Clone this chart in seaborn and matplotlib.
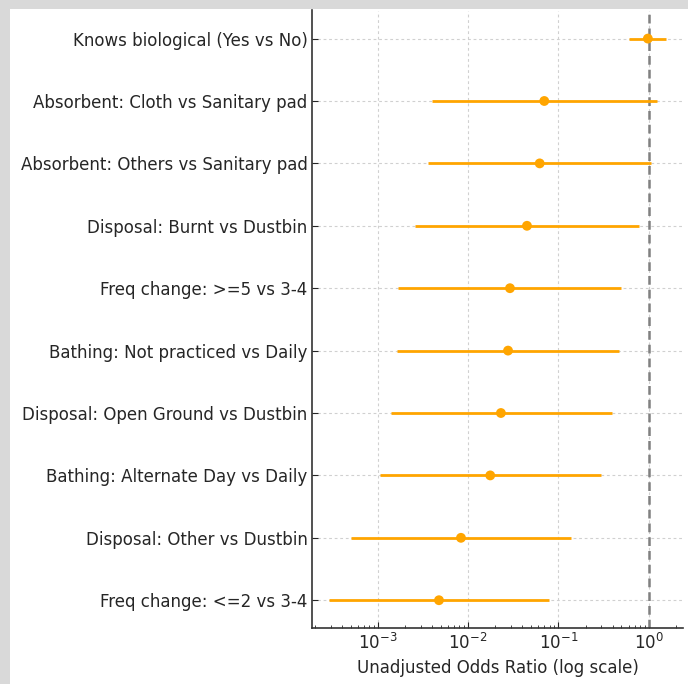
import matplotlib
matplotlib.use("Agg")
import matplotlib.pyplot as plt
import matplotlib.patches as mpatches
import numpy as np
import pandas as pd
import seaborn as sns

labels = [
    "Knows biological (Yes vs No)",
    "Absorbent: Cloth vs Sanitary pad",
    "Absorbent: Others vs Sanitary pad",
    "Disposal: Burnt vs Dustbin",
    "Freq change: >=5 vs 3-4",
    "Bathing: Not practiced vs Daily",
    "Disposal: Open Ground vs Dustbin",
    "Bathing: Alternate Day vs Daily",
    "Disposal: Other vs Dustbin",
    "Freq change: <=2 vs 3-4",
]
odds_ratio = [0.98, 0.0698, 0.0621, 0.0449, 0.0291, 0.0277, 0.0231, 0.0176, 0.00834, 0.00476]
ci_low = [0.605, 0.00398, 0.00357, 0.00256, 0.00169, 0.00164, 0.00139, 0.00106, 0.000509, 0.00029]
ci_high = [1.57, 1.226, 1.069, 0.787, 0.493, 0.465, 0.389, 0.294, 0.138, 0.078]

df = pd.DataFrame({"label": labels, "OR": odds_ratio, "lo": ci_low, "hi": ci_high})
df["pos"] = np.arange(len(df))

sns.set_style("ticks")
plt.rcParams["font.family"] = ["DejaVu Sans"]

W, H = 688, 684
fig = plt.figure(figsize=(W / 100, H / 100), dpi=100)
fig.patch.set_facecolor("white")
# screenshot-like gray border on left and top
fig.add_artist(mpatches.Rectangle((0, 0), 9.5 / W, 1, transform=fig.transFigure,
                                  facecolor="#d9d9d9", edgecolor="none", zorder=-10))
fig.add_artist(mpatches.Rectangle((0, 1 - 8.5 / H), 1, 8.5 / H, transform=fig.transFigure,
                                  facecolor="#d9d9d9", edgecolor="none", zorder=-10))

left, right, top, bottom = 312.4, 683.2, 10.5, 628.3
ax = fig.add_axes([left / W, (H - bottom) / H, (right - left) / W, (bottom - top) / H])

color = "#FFA500"
ax.errorbar(df["OR"], df["pos"],
            xerr=[df["OR"] - df["lo"], df["hi"] - df["OR"]],
            fmt="none", ecolor=color, elinewidth=2, capsize=0, zorder=3)
sns.scatterplot(data=df, x="OR", y="pos", color=color, s=50, edgecolor="none",
                ax=ax, zorder=4, legend=False)
ax.axvline(1, color="gray", linestyle=(0, (3.5, 2)), linewidth=1.8, zorder=2)

ax.set_xscale("log")
ax.set_yticks(df["pos"])
ax.set_yticklabels(df["label"])
ax.invert_yaxis()
ax.set_xlabel("Unadjusted Odds Ratio (log scale)", fontsize=12)
ax.set_ylabel("")
ax.tick_params(axis="both", which="both", direction="in", labelsize=12)
ax.tick_params(axis="y", length=4)
ax.tick_params(axis="x", which="major", length=4)
ax.tick_params(axis="x", which="minor", length=2)
ax.grid(True, which="major", linestyle=(0, (2.5, 2.5)), color="#d0d0d0", linewidth=0.8)
ax.set_axisbelow(True)
sns.despine(ax=ax)
for s in ["left", "bottom"]:
    ax.spines[s].set_color("#333333")
    ax.spines[s].set_linewidth(1.2)

fig.savefig("out.png", dpi=100, facecolor=fig.get_facecolor())
